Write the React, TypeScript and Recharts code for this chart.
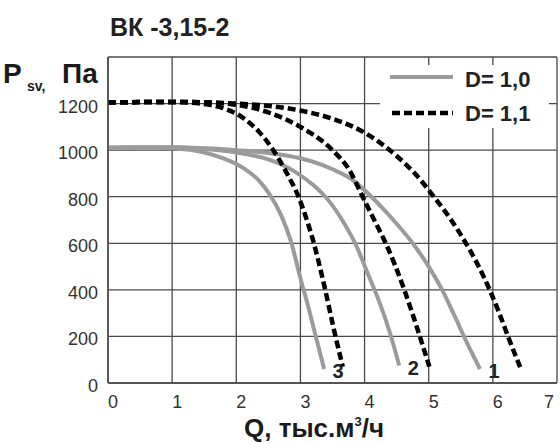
import React from "react";
import { LineChart, Line, XAxis, YAxis, CartesianGrid, Legend } from "recharts";

// fan curve ВК -3,15-2, Q in thousands m3/h, Psv in Pa
const qTicks = [0, 1, 2, 3, 4, 5, 6, 7];
const pTicks = [0, 200, 400, 600, 800, 1000, 1200, 1400];

// D = 1,0 (solid grey), curves 1..3
const grey1 = [[0, 1010], [1, 1012], [2, 1000], [2.5, 988], [3, 965], [3.5, 918], [3.8, 875], [4.05, 815], [4.4, 715], [4.75, 600], [5.0, 500], [5.2, 405], [5.4, 290], [5.6, 170], [5.8, 60]];
const grey2 = [[0, 1010], [1, 1012], [1.5, 1005], [2, 990], [2.5, 960], [2.9, 910], [3.2, 850], [3.45, 780], [3.65, 700], [3.87, 590], [4.05, 470], [4.2, 370], [4.39, 220], [4.54, 75]];
const grey3 = [[0, 1010], [0.5, 1012], [1, 1008], [1.5, 990], [1.8, 965], [2.1, 925], [2.35, 870], [2.52, 810], [2.7, 720], [2.85, 610], [3.0, 450], [3.12, 330], [3.23, 210], [3.37, 60]];

// D = 1,1 (dashed black), curves 1..3
const dash1 = [[0, 1205], [1, 1207], [2, 1200], [2.5, 1190], [3, 1170], [3.5, 1135], [4, 1075], [4.5, 975], [4.8, 895], [5.08, 800], [5.35, 700], [5.58, 600], [5.78, 500], [5.95, 400], [6.1, 300], [6.25, 190], [6.43, 65]];
const dash2 = [[0, 1205], [1, 1207], [1.5, 1205], [2, 1195], [2.5, 1162], [3, 1100], [3.5, 1000], [3.75, 920], [3.97, 800], [4.15, 700], [4.33, 600], [4.62, 400], [4.85, 210], [5.01, 70]];
const dash3 = [[0, 1205], [1, 1207], [1.5, 1198], [1.8, 1180], [2.1, 1140], [2.35, 1080], [2.6, 990], [2.8, 895], [2.97, 800], [3.1, 700], [3.2, 610], [3.37, 420], [3.53, 220], [3.66, 70]];

const curveNames = ["1", "2", "3"];

const toRows = (pts: number[][]) => pts.map(([q, p]) => ({ q, p }));

const FONT = "'Liberation Sans', Arial, sans-serif";
const GREY = "#9b9b9b";
const GRID = "#4a4a4a";

const endLabel = (name: string, count: number) => (props: any) => {
  if (props.index !== count - 1) return <g />;
  return (
    <text x={props.x + 14} y={props.y + 2} textAnchor="middle" dominantBaseline="central"
      fontFamily={FONT} fontWeight={700} fontSize={20} fill="#222">
      {name}
    </text>
  );
};

const XTick = (props: any) => {
  const { x, y, payload } = props;
  const dx = payload.value === 7 ? -7 : 5;
  return (
    <text x={x + dx} y={y} dy={11} textAnchor="middle" dominantBaseline="central"
      fontFamily={FONT} fontSize={18} fill="#333">
      {payload.value}
    </text>
  );
};

const YTick = (props: any) => {
  const { x, y, payload } = props;
  if (payload.value === 1400) return <g />;
  return (
    <text x={x} y={y + 3} textAnchor="end" dominantBaseline="central"
      fontFamily={FONT} fontSize={18} fill="#333">
      {payload.value}
    </text>
  );
};

const LegendBox = () => (
  <svg width={169} height={63}>
    <line x1={10} x2={73} y1={12} y2={12} stroke={GREY} strokeWidth={4} />
    <text x={85} y={14} dominantBaseline="central" fontFamily={FONT} fontWeight={700} fontSize={22} fill="#222">D= 1,0</text>
    <line x1={12} x2={73} y1={48} y2={48} stroke="#000" strokeWidth={4.5} strokeDasharray="8 4" />
    <text x={85} y={48} dominantBaseline="central" fontFamily={FONT} fontWeight={700} fontSize={22} fill="#222">D= 1,1</text>
  </svg>
);

const YLabel = () => (
  <g fontFamily={FONT} fontWeight={700} fill="#1a1a1a">
    <text x={3} y={83} fontSize={28}>P</text>
    <text x={27} y={91} fontSize={14}>sv,</text>
    <text x={62} y={83} fontSize={28}>Па</text>
  </g>
);

const XLabel = () => (
  <text x={244} y={437} fontFamily={FONT} fontWeight={700} fontSize={26} fill="#1a1a1a">
    Q, тыс.м<tspan dy={-11} fontSize={13}>3</tspan><tspan dy={11}>/ч</tspan>
  </text>
);

export default function App() {
  const greys = [grey1, grey2, grey3];
  const dashes = [dash1, dash2, dash3];
  return (
    <div style={{ position: "absolute", left: 0, top: 0, width: 560, height: 443, background: "#fff" }}>
      <div style={{ position: "absolute", left: 110, top: 15, fontFamily: FONT, fontWeight: 700, fontSize: 25, lineHeight: "25px", color: "#222" }}>
        ВК -3,15-2
      </div>
      <LineChart width={560} height={443} margin={{ top: 57, right: 3, bottom: 0, left: 0 }}>
        <CartesianGrid stroke={GRID} strokeWidth={1.3} />
        <XAxis dataKey="q" type="number" domain={[0, 7]} ticks={qTicks} height={60}
          axisLine={{ stroke: GRID, strokeWidth: 1.5 }} tickLine={false} tick={<XTick />}
          allowDuplicatedCategory={false} label={<XLabel />} />
        <YAxis dataKey="p" type="number" domain={[0, 1400]} ticks={pTicks} width={108}
          axisLine={{ stroke: GRID, strokeWidth: 1.5 }} tickLine={false} tickMargin={4} tick={<YTick />}
          label={<YLabel />} />
        {greys.map((c, i) => (
          <Line key={`g${i}`} data={toRows(c)} dataKey="p" type="monotone" stroke={GREY} strokeWidth={4}
            dot={false} isAnimationActive={false} label={endLabel(curveNames[i], c.length)} legendType="none" />
        ))}
        {dashes.map((c, i) => (
          <Line key={`d${i}`} data={toRows(c)} dataKey="p" type="monotone" stroke="#000" strokeWidth={4.5}
            strokeDasharray="8 4" dot={false} isAnimationActive={false} legendType="none" />
        ))}
        <Legend layout="vertical" align="center" verticalAlign="middle" content={<LegendBox />}
          wrapperStyle={{ position: "absolute", left: 380, top: 65, width: 169, height: 63, background: "#fff" }} />
      </LineChart>
    </div>
  );
}
